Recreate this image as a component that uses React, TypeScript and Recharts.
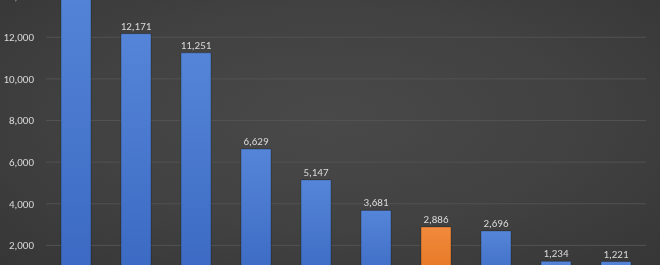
import React from 'react';
import { BarChart, Bar, XAxis, YAxis, CartesianGrid, LabelList, Cell } from 'recharts';

const categories = ['A', 'B', 'C', 'D', 'E', 'F', 'G', 'H', 'I', 'J'];
const values = [14800, 12171, 11251, 6629, 5147, 3681, 2886, 2696, 1234, 1221];
const highlight = [false, false, false, false, false, false, true, false, false, false];
const yTicks = [0, 2000, 4000, 6000, 8000, 10000, 12000, 14000];

const data = categories.map((name, i) => ({ name, value: values[i], hl: highlight[i] }));

const fmt = (v: number) => v.toLocaleString('en-US');

export default function App() {
    return (
        <div
            style={{
                position: 'fixed',
                top: 0,
                left: 0,
                width: 660,
                height: 265,
                overflow: 'hidden',
                background: 'radial-gradient(ellipse at 50% 45%, #494949 0%, #414141 55%, #363636 100%)',
                fontFamily: 'Carlito, Calibri, Lato, sans-serif',
            }}
        >
            {/* chart is taller than the window, so the top and bottom are cropped like the reference */}
            <div style={{ position: 'absolute', top: -66, left: 0 }}>
                <BarChart
                    width={660}
                    height={358}
                    data={data}
                    margin={{ top: 20, right: 14, bottom: 5, left: 0 }}
                    barCategoryGap="25%"
                >
                    <defs>
                        <linearGradient id="blueGrad" x1="0" y1="0" x2="0" y2="1">
                            <stop offset="0%" stopColor="#5585d8" />
                            <stop offset="100%" stopColor="#3a68c2" />
                        </linearGradient>
                        <linearGradient id="orangeGrad" x1="0" y1="0" x2="0" y2="1">
                            <stop offset="0%" stopColor="#f18a3c" />
                            <stop offset="100%" stopColor="#e2721f" />
                        </linearGradient>
                    </defs>
                    <CartesianGrid vertical={false} stroke="#525252" strokeWidth={1} horizontalValues={yTicks} />
                    <XAxis dataKey="name" hide />
                    <YAxis
                        width={46}
                        domain={[0, 16000]}
                        ticks={yTicks}
                        allowDataOverflow
                        axisLine={false}
                        tickLine={false}
                        tickSize={6}
                        tickMargin={6}
                        tickFormatter={fmt}
                        tick={{ fill: '#d9d9d9', fontSize: 11 }}
                    />
                    <Bar dataKey="value" isAnimationActive={false} stroke="rgba(0,0,0,0.25)" strokeWidth={1}>
                        {data.map((d, i) => (
                            <Cell key={i} fill={d.hl ? 'url(#orangeGrad)' : 'url(#blueGrad)'} />
                        ))}
                        <LabelList
                            dataKey="value"
                            position="top"
                            offset={4}
                            formatter={(v: any) => fmt(Number(v))}
                            style={{ fill: '#d9d9d9', fontSize: 11 }}
                        />
                    </Bar>
                </BarChart>
            </div>
        </div>
    );
}
